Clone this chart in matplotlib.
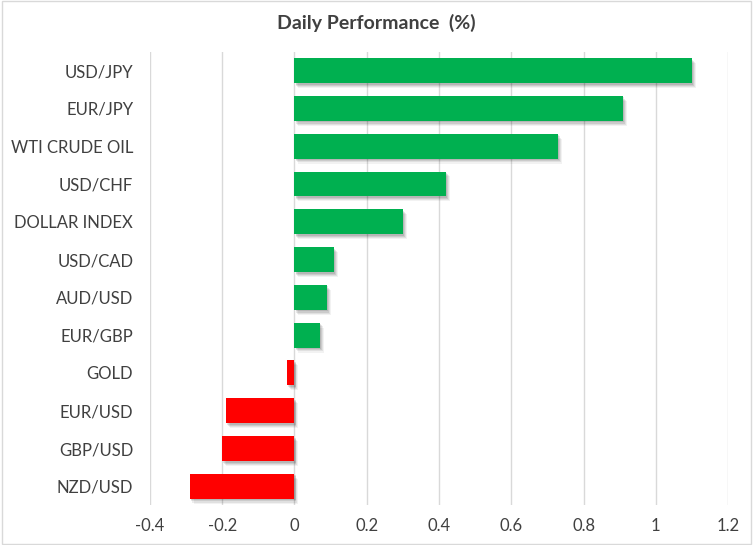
import matplotlib

matplotlib.use("Agg")
import matplotlib.pyplot as plt
from matplotlib.patches import Rectangle

# data, top to bottom
labels = ["USD/JPY", "EUR/JPY", "WTI CRUDE OIL", "USD/CHF", "DOLLAR INDEX",
          "USD/CAD", "AUD/USD", "EUR/GBP", "GOLD", "EUR/USD", "GBP/USD", "NZD/USD"]
values = [1.10, 0.91, 0.73, 0.42, 0.30, 0.11, 0.09, 0.07, -0.02, -0.19, -0.20, -0.29]
xticks = [-0.4, -0.2, 0, 0.2, 0.4, 0.6, 0.8, 1, 1.2]
xticklabels = ["-0.4", "-0.2", "0", "0.2", "0.4", "0.6", "0.8", "1", "1.2"]

plt.rcParams["font.family"] = ["Lato", "DejaVu Sans"]

fig = plt.figure(figsize=(7.53, 5.45), dpi=100)
ax = fig.add_axes([0.199, 0.073, 0.768, 0.832])

pos = list(range(len(labels)))
colors = ["#00b050" if v >= 0 else "#ff0000" for v in values]
h = 0.66

# soft drop shadow under each bar (stacked faint layers)
for dx, dy, a in [(0.011, 0.13, 0.05), (0.008, 0.10, 0.07), (0.005, 0.07, 0.09),
                  (0.003, 0.04, 0.10)]:
    ax.barh([p + dy for p in pos], values, height=h, left=[dx] * len(values),
            color="#000000", alpha=a, linewidth=0, zorder=2)
ax.barh(pos, values, height=h, color=colors, linewidth=0, zorder=3)

ax.set_xlim(-0.4, 1.2)
ax.set_ylim(len(labels) - 0.5, -0.5)
ax.set_xticks(xticks)
ax.set_xticklabels(xticklabels)
ax.set_yticks(pos)
ax.set_yticklabels(labels)
ax.grid(axis="x", color="#d9d9d9", linewidth=1, zorder=0)
ax.tick_params(length=0, labelsize=12, labelcolor="#404040", pad=9)
ax.tick_params(axis="y", pad=12)
for s in ax.spines.values():
    s.set_visible(False)

fig.text(0.5, 0.958, "Daily Performance  (%)", ha="center", va="center",
         fontsize=14, fontweight="bold", color="#404040")
fig.patches.append(Rectangle((0.002, 0.002), 0.996, 0.996, transform=fig.transFigure,
                             fill=False, edgecolor="#d9d9d9", linewidth=1))

fig.savefig("out.png", dpi=100)
